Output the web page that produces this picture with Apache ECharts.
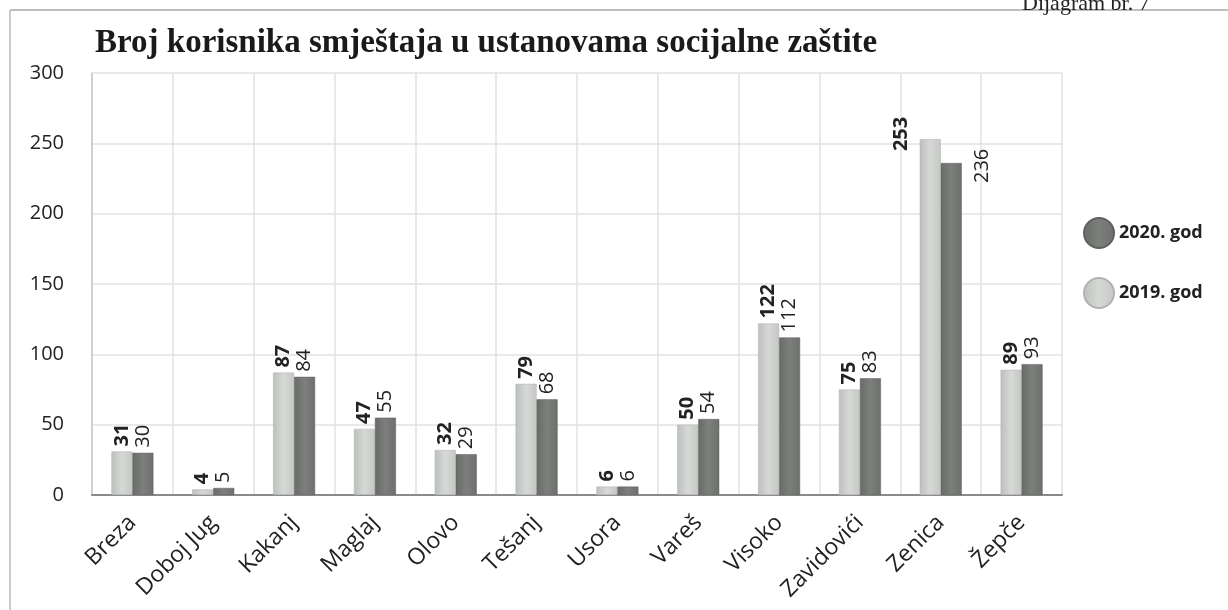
<!DOCTYPE html>
<html>
<head>
<meta charset="utf-8">
<script src="https://cdn.jsdelivr.net/npm/echarts@6/dist/echarts.min.js"></script>
<style>
  html, body { margin: 0; padding: 0; background: #fff; }
  #chart { width: 1228px; height: 610px; }
</style>
</head>
<body>
<div id="chart"></div>
<script>
// podaci
const categories = ['Breza', 'Doboj Jug', 'Kakanj', 'Maglaj', 'Olovo', 'Tešanj', 'Usora', 'Vareš', 'Visoko', 'Zavidovići', 'Zenica', 'Žepče']
const values2019 = [31, 4, 87, 47, 32, 79, 6, 50, 122, 75, 253, 89]
const values2020 = [30, 5, 84, 55, 29, 68, 6, 54, 112, 83, 236, 93]
const yTicks = [0, 50, 100, 150, 200, 250, 300]

const sans = '"Open Sans", "Noto Sans", sans-serif'

const chart = echarts.init(document.getElementById('chart'))

// Zenica ima labele pomaknute sa strane
const withZenica = (arr, offset) => arr.map((v, i) => {
  if (categories[i] !== 'Zenica') return v
  return { value: v, label: { offset: offset } }
})

const option = {
  animation: false,
  title: {
    text: 'Broj korisnika smještaja u ustanovama socijalne zaštite',
    left: 90,
    top: 22,
    textStyle: {
      fontFamily: '"Liberation Serif", "DejaVu Serif", serif',
      fontSize: 33,
      fontWeight: 'bold',
      color: '#1a1a1a'
    }
  },
  legend: {
    orient: 'vertical',
    left: 1078,
    top: 212,
    itemGap: 28,
    itemWidth: 30,
    itemHeight: 30,
    icon: 'circle',
    data: ['2020. god', '2019. god'],
    textStyle: {
      fontFamily: sans,
      fontSize: 18,
      fontWeight: 'bold',
      color: '#222'
    }
  },
  grid: {
    left: 92,
    right: 166,
    top: 73,
    bottom: 115
  },
  xAxis: {
    type: 'category',
    data: categories,
    axisLine: { lineStyle: { color: '#8a8a8a', width: 2 } },
    axisTick: { show: false },
    splitLine: { show: true, lineStyle: { color: '#e2e2e2', width: 1.5 } },
    axisLabel: {
      interval: 0,
      rotate: 45,
      margin: 24,
      fontFamily: sans,
      fontSize: 23,
      color: '#222'
    }
  },
  yAxis: {
    type: 'value',
    min: yTicks[0],
    max: yTicks[yTicks.length - 1],
    interval: 50,
    axisLine: { show: true, lineStyle: { color: '#c8c8c8', width: 1.5 } },
    axisTick: { show: false },
    splitLine: { lineStyle: { color: '#e2e2e2', width: 1.5 } },
    axisLabel: {
      margin: 28,
      fontFamily: sans,
      fontSize: 20,
      color: '#222'
    }
  },
  series: [
    {
      name: '2019. god',
      type: 'bar',
      data: withZenica(values2019, [-17, -29]),
      barWidth: 21,
      barGap: '0%',
      itemStyle: {
        color: new echarts.graphic.LinearGradient(0, 0, 1, 0, [
          { offset: 0, color: '#bcc0bc' },
          { offset: 0.5, color: '#d6d9d6' },
          { offset: 1, color: '#c4c7c4' }
        ]),
        borderColor: '#b0b3b0',
        borderWidth: 0.5
      },
      label: {
        show: true,
        position: 'top',
        rotate: 90,
        align: 'left',
        verticalAlign: 'middle',
        distance: 5,
        fontFamily: sans,
        fontSize: 20,
        fontWeight: 'bold',
        color: '#222'
      }
    },
    {
      name: '2020. god',
      type: 'bar',
      data: withZenica(values2020, [-25, 31]),
      barWidth: 21,
      itemStyle: {
        color: new echarts.graphic.LinearGradient(0, 0, 1, 0, [
          { offset: 0, color: '#686b68' },
          { offset: 0.5, color: '#7c7f7c' },
          { offset: 1, color: '#6c6f6c' }
        ]),
        borderColor: '#5e615e',
        borderWidth: 0.5
      },
      label: {
        show: true,
        position: 'top',
        rotate: 90,
        align: 'left',
        verticalAlign: 'middle',
        distance: 5,
        fontFamily: sans,
        fontSize: 20,
        color: '#222'
      }
    }
  ],
  graphic: [
    // okvir skeniranog dokumenta
    { type: 'line', shape: { x1: 10, y1: 10, x2: 1228, y2: 10 }, style: { stroke: '#aaa', lineWidth: 1.5 } },
    { type: 'line', shape: { x1: 10, y1: 10, x2: 10, y2: 610 }, style: { stroke: '#bbb', lineWidth: 1.5 } },
    {
      type: 'text', left: 1022, top: -7,
      style: {
        text: 'Dijagram br. 7',
        font: '22px "Liberation Serif", serif',
        fill: '#222'
      }
    }
  ]
}

chart.setOption(option)
</script>
</body>
</html>
